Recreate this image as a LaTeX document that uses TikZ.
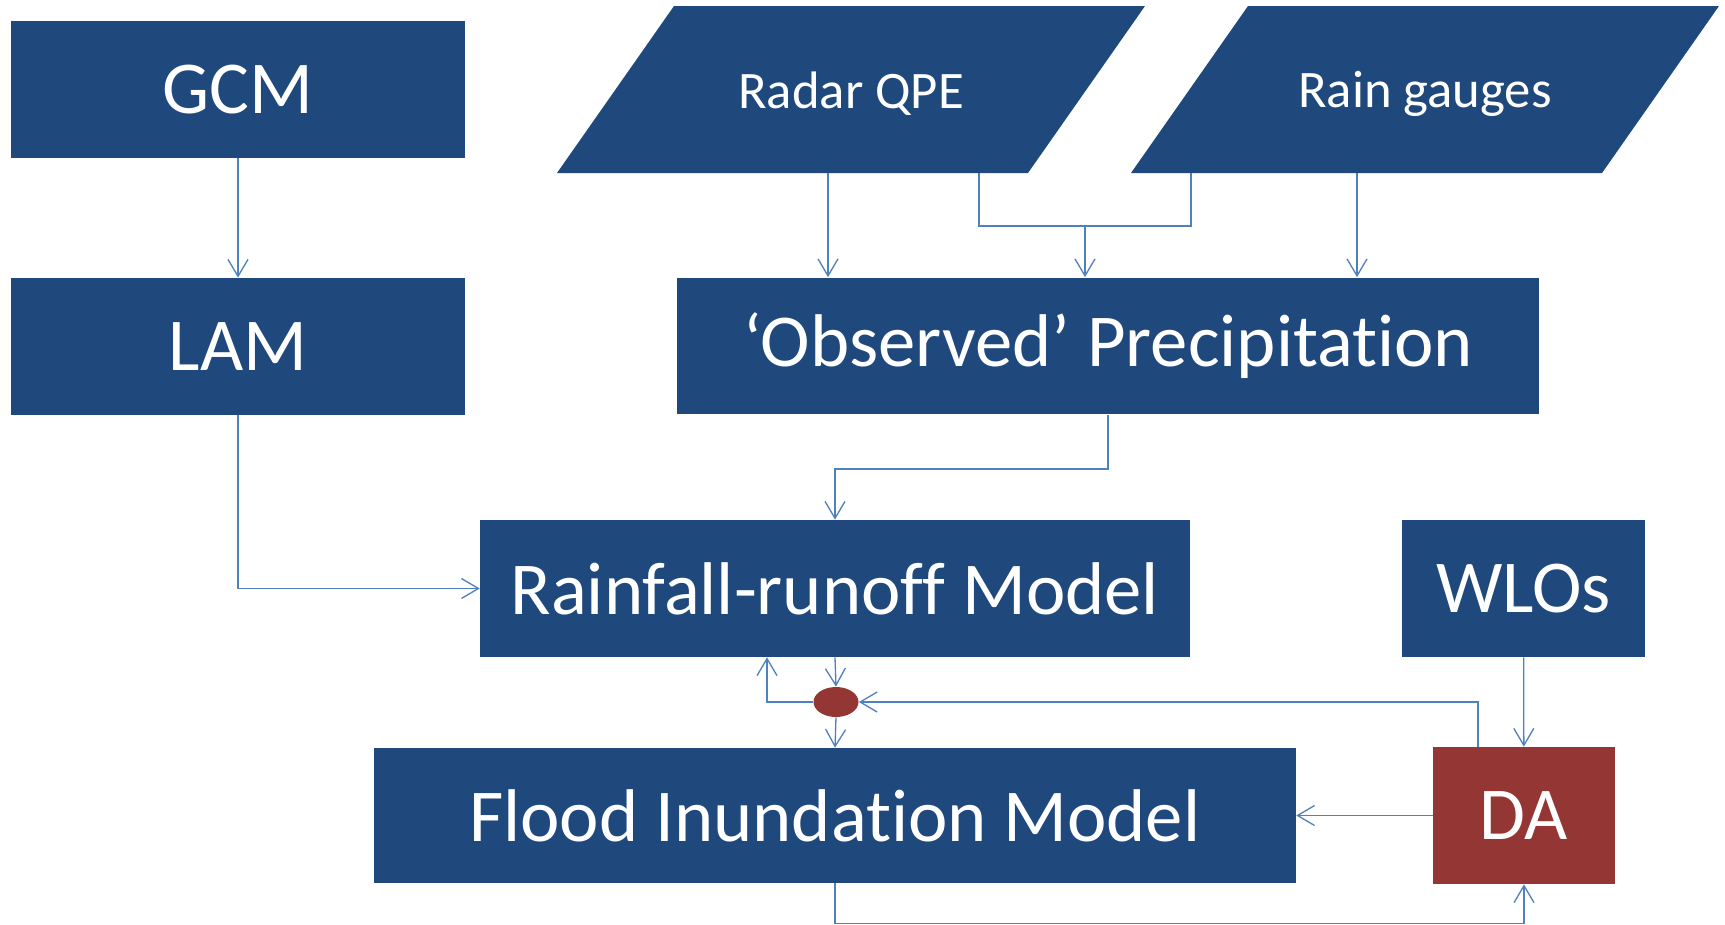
\documentclass[tikz,border=0pt]{standalone}
\usepackage{fontspec}
\setmainfont[Ligatures=NoCommon]{Carlito}
\usepackage{tikz}
\usetikzlibrary{arrows.meta}
\usetikzlibrary{shapes.geometric}

\definecolor{boxblue}{HTML}{1F497D}
\definecolor{boxred}{HTML}{943634}
\definecolor{linkblue}{HTML}{4F81BD}

\tikzset{
  block/.style={fill=boxblue, text=white, minimum height=2.74cm, inner sep=0pt,
                font=\fontsize{42.5}{42.5}\selectfont},
  datain/.style={fill=boxblue},
  datatext/.style={text=white, yshift=-0.08cm, font=\fontsize{30}{30}\selectfont},
  link/.style={draw=linkblue, line width=0.75pt,
               -{Straight Barb[length=0.34cm, width=0.4cm, line width=0.75pt]}},
  line/.style={draw=linkblue, line width=0.75pt}
}

\begin{document}
\begin{tikzpicture}[x=0.02cm, y=-0.02cm]
  \useasboundingbox (0,0) rectangle (1725,924);

  \fill[datain] (674,6) -- (1145,6) -- (1028,173) -- (557,173) -- cycle;
  \fill[datain] (1248,6) -- (1719,6) -- (1602,173) -- (1131,173) -- cycle;
  \node[datatext] (radar) at (851,89.5) {Radar QPE};
  \node[datatext] (gauges) at (1425,89.5) {Rain gauges};
  \coordinate (radar-a) at (828,173);
  \coordinate (radar-b) at (979,173);
  \coordinate (gauges-a) at (1191,173);
  \coordinate (gauges-b) at (1357,173);

  \node[block, minimum width=9.08cm] (gcm) at (238,89.5) {GCM};
  \node[block, minimum width=9.08cm] (lam) at (238,346.5) {LAM};
  \node[block, minimum width=17.24cm] (obs) at (1108,346) {`Observed' Precipitation};
  \node[block, minimum width=14.2cm] (rr) at (835,588.5) {Rainfall-runoff Model};
  \node[block, minimum width=4.86cm] (wlo) at (1523.5,588.5) {WLOs};
  \node[block, minimum width=18.44cm, minimum height=2.7cm] (flood) at (835,815.5) {Flood Inundation Model};
  \node[block, minimum width=3.64cm, fill=boxred] (da) at (1524,815.5) {DA};
  \node[ellipse, fill=boxred, minimum width=0.9cm, minimum height=0.6cm, inner sep=0pt] (dot) at (836,702) {};
  \coordinate (merge) at (1085,226);

  \draw[link] (gcm) -- (lam);
  \draw[link] (radar-a) -- (radar-a |- obs.north);
  \draw[line] (radar-b) |- (merge) -| (gauges-a);
  \draw[link] (merge) -- (merge |- obs.north);
  \draw[link] (gauges-b) -- (gauges-b |- obs.north);
  \draw[link] (lam.south) |- (rr.west);
  \draw[link] (obs.south) -- ++(0,54) -| (rr.north);
  \draw[link] (rr.south) -- (dot.north);
  \draw[link] (dot.south) -- (flood.north);
  \draw[link] (dot.west) -| ([xshift=-1.36cm]rr.south);
  \draw[link] ([xshift=-0.92cm]da.north) |- (dot.east);
  \draw[link] (wlo) -- (da);
  \draw[link] (da) -- (flood);
  \draw[link] (flood.south) -- ++(0,40) -| (da.south);
\end{tikzpicture}
\end{document}
